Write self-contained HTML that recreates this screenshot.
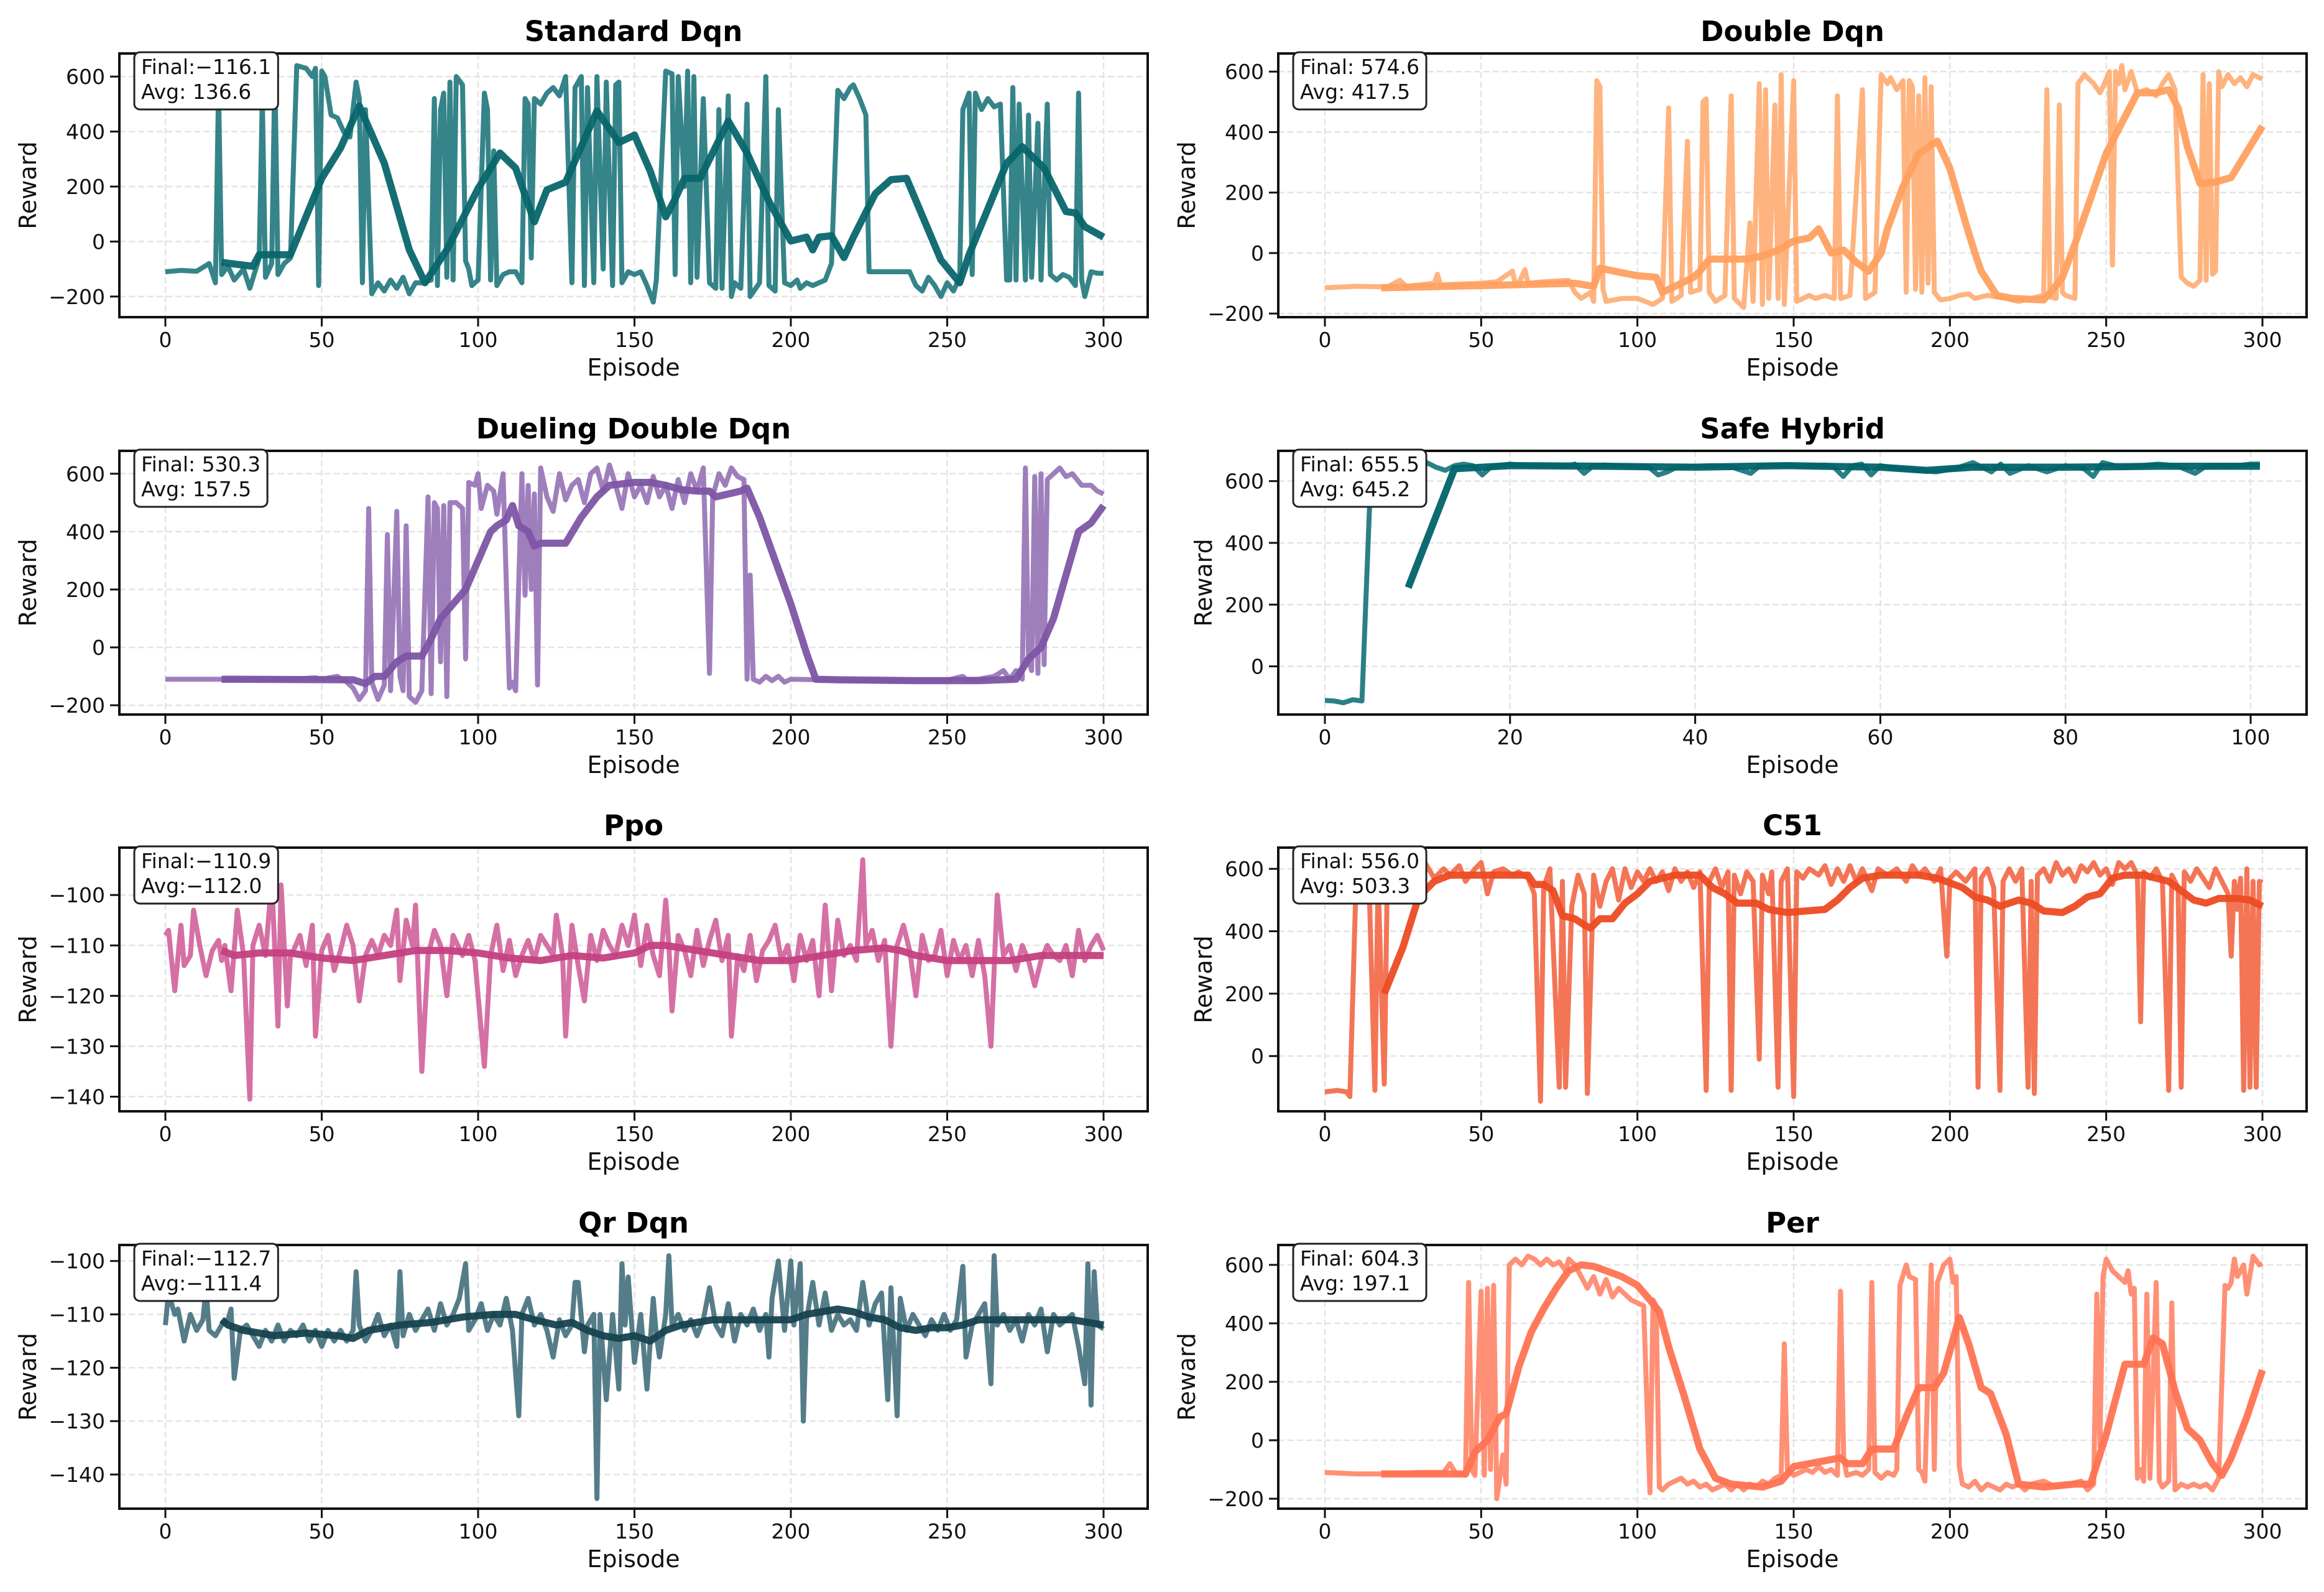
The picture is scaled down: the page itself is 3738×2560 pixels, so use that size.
<!DOCTYPE html>
<html><head><meta charset="utf-8"><style>
html,body{margin:0;padding:0;background:#fff;}
svg{display:block;font-family:"DejaVu Sans","Liberation Sans",sans-serif;}
</style></head><body>
<svg id="fig" xmlns="http://www.w3.org/2000/svg" width="3738" height="2560" viewBox="0 0 3738 2560">
<rect x="0" y="0" width="3738" height="2560" fill="#fff"/>
</svg>
<script>
// ---------------- DATA ----------------
const stdRawX=[0,5,10,14,16,17,18,20,22,25,27,30,31,32,34,35,36,38,40,42,45,47,48,49,50,51,53,55,57,59,61,62,63,64,66,68,70,72,74,76,78,80,82,85,86,87,88,89,90,91,92,93,95,96,97,98,100,102,103,104,105,106,108,110,112,114,115,116,117,118,120,122,124,126,128,130,131,133,134,135,137,138,140,141,143,144,145,146,148,150,152,154,156,157,160,162,163,164,166,167,168,169,170,172,174,176,177,178,180,181,182,184,186,187,190,192,193,195,196,198,200,202,203,205,207,209,211,213,215,217,219,220,222,224,225,228,232,236,238,240,242,244,246,248,250,252,254,255,257,258,259,261,263,265,267,269,270,271,272,273,275,276,277,279,280,282,283,285,287,289,291,292,293,294,296,298,300];
const stdRawY=[-110,-105,-108,-80,-150,560,-120,-90,-140,-100,-170,-60,520,-130,-80,620,-120,-80,-60,640,630,600,630,-160,620,600,460,450,400,380,580,520,-150,480,-190,-150,-180,-140,-170,-130,-190,-150,-150,-140,520,-160,480,540,-130,580,-140,600,570,-70,-100,-160,-140,540,480,-140,330,-160,-120,-110,-110,-150,520,500,-60,520,500,540,560,530,600,-150,560,600,-160,560,-150,600,-100,580,-160,570,580,-150,-110,-120,-110,-160,-220,-140,620,610,-120,600,200,620,-150,600,-130,520,-150,-170,480,-170,530,-200,-150,-170,500,-200,-150,600,-160,-180,480,-150,-160,-140,-170,-150,-160,-150,-140,-80,550,520,560,570,520,460,-110,-110,-110,-110,-110,-160,-180,-130,-160,-200,-150,-180,-130,480,540,-120,540,480,520,490,500,-140,-140,560,-140,500,-140,460,-130,430,-140,500,-120,-140,-120,-130,-160,540,-140,-200,-110,-115,-116];
const stdMaX=[18,28,30,40,50,56,62,70,78,83,90,100,107,112,118,122,128,138,145,150,155,160,163,166,171,180,186,193,200,205,207,209,213,217,220,227,232,237,248,254,257,269,274,281,288,291,294,300];
const stdMaY=[-76,-90,-48,-48,230,340,493,285,-30,-150,-30,193,322,267,72,188,216,475,360,387,257,90,155,230,230,438,322,146,2,16,-30,16,21,-58,16,174,225,230,-67,-150,-48,285,345,267,109,104,54,16];

const dblRawX=[0,10,20,24,26,35,36,37,50,55,60,61,62,64,65,70,78,80,82,85,86,87,88,89,90,95,100,105,108,110,111,114,116,117,120,121,122,123,125,128,130,131,134,136,137,139,140,141,142,144,145,146,147,150,151,155,157,160,163,164,165,168,172,173,176,178,180,181,183,185,186,187,188,189,190,191,192,193,194,195,197,200,203,206,208,212,215,218,222,226,230,231,232,234,235,236,237,240,241,243,246,248,249,251,252,253,254,255,256,258,260,263,266,268,270,272,274,276,278,280,281,282,283,284,285,286,287,289,291,293,295,297,300];
const dblRawY=[-115,-110,-112,-90,-110,-100,-70,-105,-100,-95,-60,-105,-100,-55,-100,-95,-90,-130,-150,-130,-160,570,550,-120,-160,-150,-150,-170,-150,480,-160,-140,370,-130,-120,500,510,-130,-160,-140,520,-150,-180,100,-160,560,-170,540,-150,490,-150,590,-170,570,-160,-140,-150,-140,-150,520,-150,-140,540,-150,-130,590,560,580,540,570,-130,570,550,-120,520,-130,580,-100,550,-130,-155,-150,-140,-135,-150,-140,-145,-150,-160,-150,-140,540,-145,-150,490,-130,-140,-150,560,590,560,530,550,600,-40,600,560,620,540,600,530,540,520,560,590,540,-80,-100,-110,-90,590,-90,560,-70,-60,600,550,590,560,580,550,590,575];
const dblMaX=[18,40,60,80,86,88,95,100,106,108,112,118,120,123,130,135,140,145,150,155,158,162,166,170,174,178,180,185,190,196,200,205,208,210,215,220,230,233,236,240,245,250,255,260,266,270,273,276,280,285,290,300];
const dblMaY=[-115,-110,-105,-100,-110,-50,-65,-75,-80,-130,-110,-80,-60,-20,-20,-20,-10,10,40,50,80,0,10,-30,-60,0,80,220,330,370,280,100,0,-60,-140,-150,-155,-120,-80,30,180,330,430,530,530,540,480,350,230,235,250,420];

const duelRawX=[0,10,20,40,48,50,55,58,60,62,64,65,66,68,70,71,72,74,75,76,77,78,80,82,84,85,86,87,88,89,90,91,93,95,96,97,99,100,101,103,105,106,108,110,111,112,114,115,116,117,118,119,120,122,124,126,128,130,132,134,136,138,140,142,144,146,148,150,152,154,156,158,160,162,164,166,168,170,172,174,175,177,179,181,183,185,186,187,188,190,192,194,196,198,200,210,230,250,255,256,260,265,268,270,272,274,275,276,277,278,279,280,281,282,284,286,288,290,293,296,298,300];
const duelRawY=[-110,-110,-110,-110,-105,-110,-100,-120,-140,-180,-150,480,-120,-180,-130,390,-150,470,-100,-150,420,-170,-190,-150,520,-160,500,480,-50,490,-170,500,500,480,-40,570,560,600,480,560,540,460,600,-140,-120,-150,600,180,560,200,530,-130,620,520,470,600,510,560,580,500,600,620,540,630,560,480,600,520,560,500,590,520,560,480,580,500,600,540,620,-90,520,600,560,620,590,580,-110,250,-110,-120,-100,-115,-100,-120,-110,-112,-115,-113,-100,-110,-110,-100,-80,-110,-80,-110,620,-40,-80,590,-90,600,-60,580,600,620,590,600,560,560,540,530];
const duelMaX=[18,60,64,67,70,74,77,82,85,88,92,96,100,104,106,109,111,113,116,118,120,128,133,138,142,150,155,160,165,170,174,176,184,186,190,195,200,205,208,215,240,260,272,276,280,284,288,292,296,300];
const duelMaY=[-110,-112,-125,-100,-100,-50,-30,-30,30,100,150,200,300,400,420,440,490,420,400,350,360,360,450,520,560,570,570,560,545,540,540,520,540,550,450,300,150,-20,-110,-112,-115,-115,-110,-40,0,100,250,400,430,490];

const safeRawX=[0,1,2,3,4,5,6,7,8,9,10,11,12,13,14,15,16,17,18,20,22,24,26,27,28,29,30,32,34,35,36,37,38,40,42,44,46,47,48,50,52,54,55,56,57,58,59,60,62,64,66,68,70,72,73,74,76,78,80,82,83,84,86,88,90,92,94,95,96,98,100,101];
const safeRawY=[-110,-112,-118,-108,-112,650,655,660,660,665,665,660,645,635,650,655,650,620,648,655,650,652,648,655,625,650,652,650,648,645,620,630,645,648,650,645,625,650,652,650,648,652,645,615,650,655,620,650,640,635,630,640,660,630,655,625,650,630,650,640,615,660,645,650,655,650,625,645,650,648,655,655];
const safeMaX=[9,14,20,30,40,50,60,65,70,80,90,101];
const safeMaY=[255,640,650,648,645,650,645,635,645,645,648,648];

const ppoRawX=[0,1,3,5,6,8,9,11,13,15,17,18,19,21,23,25,27,28,30,32,34,35,36,37,39,40,41,43,45,47,48,50,52,54,56,58,60,62,64,66,68,70,72,74,75,77,79,80,82,84,86,88,90,92,95,97,99,102,104,106,108,110,112,114,116,118,120,122,124,125,127,128,130,132,134,136,138,140,142,144,146,148,150,152,154,156,158,160,161,162,164,166,168,170,172,174,176,178,180,181,183,185,187,189,191,193,195,197,199,201,203,205,207,209,211,213,215,217,219,221,223,224,226,228,230,232,234,236,238,240,242,244,246,248,250,252,254,256,258,260,262,264,266,268,270,272,274,276,278,280,282,284,286,288,290,292,294,296,298,300];
const ppoRawY=[-108,-107,-119,-106,-114,-112,-103,-110,-116,-111,-109,-113,-110,-119,-103,-112,-140.5,-110,-106,-112,-97,-111,-126,-98,-122,-112,-111,-108,-114,-106,-128,-111,-108,-115,-111,-106,-110,-121,-112,-109,-112,-108,-110,-103,-117,-105,-110,-102,-135,-112,-107,-110,-120,-108,-112,-108,-113,-134,-112,-106,-115,-109,-116,-112,-109,-113,-108,-110,-112,-104,-112,-128,-106,-114,-121,-108,-113,-107,-110,-112,-106,-110,-104,-114,-106,-112,-116,-101,-110,-123,-108,-111,-116,-107,-114,-109,-105,-113,-108,-128,-112,-115,-108,-117,-111,-109,-106,-113,-110,-117,-108,-113,-109,-120,-102,-119,-105,-112,-110,-113,-93,-110,-107,-113,-109,-130,-110,-106,-111,-120,-108,-113,-112,-107,-116,-109,-113,-110,-116,-109,-116,-130,-100,-112,-110,-115,-110,-113,-118,-113,-110,-112,-113,-110,-116,-107,-113,-110,-108,-111];
const ppoMaX=[18,22,30,40,50,60,70,80,90,100,110,120,130,140,150,155,160,170,180,190,200,210,220,230,235,240,250,260,270,280,290,300];
const ppoMaY=[-111,-112,-111.5,-111.5,-112.5,-113,-112,-111,-111,-111.5,-112.5,-113,-112,-112.5,-111.5,-110,-110,-111,-112,-113,-113,-112,-111,-110.5,-111,-112,-113,-113,-113,-112,-112,-112];

const c51RawX=[0,4,7,8,10,12,14,16,17,19,20,24,26,28,30,32,35,38,40,43,45,48,50,52,54,57,60,62,65,67,69,70,72,75,76,77,79,81,83,84,86,88,90,92,94,96,98,100,102,104,106,108,110,112,114,116,118,120,122,123,125,127,129,130,131,133,135,137,139,140,142,143,145,146,148,150,151,153,155,158,160,162,164,166,168,170,172,175,177,180,183,186,188,190,192,195,197,199,200,202,205,208,209,210,212,214,216,217,219,221,223,225,226,227,228,230,232,234,236,238,240,242,244,246,248,250,252,254,256,258,260,261,262,264,266,268,270,271,273,274,275,277,279,281,283,285,287,289,290,291,292,293,294,295,296,297,298,299,300];
const c51RawY=[-115,-110,-115,-130,570,550,600,-110,570,-90,590,580,600,560,590,620,570,600,580,610,560,600,620,520,590,600,580,590,570,520,-145,540,600,-100,560,-100,480,580,520,-120,580,480,560,600,500,600,540,590,560,600,560,590,530,600,560,590,540,590,-110,560,600,540,590,-110,580,520,590,560,-10,580,520,590,-100,560,600,-130,590,570,600,580,610,550,600,560,610,560,600,530,600,580,600,560,610,580,600,560,600,320,570,590,560,600,-100,570,600,540,-110,560,600,560,600,-100,560,-120,580,600,560,620,580,600,560,610,590,620,580,600,550,620,600,620,580,110,590,570,600,560,-110,580,540,-100,590,560,600,570,540,600,560,520,320,560,470,570,-110,600,-100,560,-100,560,556];
const c51MaX=[19,25,30,35,40,50,60,65,67,70,73,76,80,83,85,88,92,96,100,104,108,112,120,124,128,132,138,142,148,154,160,164,168,172,178,190,196,200,204,208,212,216,222,226,230,236,240,244,248,252,256,262,266,270,274,278,282,286,292,296,300];
const c51MaY=[200,350,510,560,580,580,580,580,550,550,530,450,440,420,410,440,440,490,520,560,570,580,580,540,520,490,490,470,460,465,470,500,540,570,580,580,570,555,540,510,500,480,500,490,465,460,480,510,520,570,580,580,570,560,530,500,490,505,505,500,480];

const qrRawX=[0,1,3,4,6,8,10,12,13,14,16,18,20,21,22,24,26,28,30,32,34,36,38,40,42,44,46,48,50,52,54,56,58,60,61,62,64,66,68,70,72,74,75,76,78,80,82,84,86,88,90,92,94,96,97,99,101,103,105,107,109,111,113,114,116,118,120,122,124,126,128,130,131,132,134,135,137,138,139,141,143,145,146,147,148,150,152,154,156,157,158,160,161,162,164,166,168,170,172,174,176,178,180,182,184,186,188,190,192,193,194,196,198,200,201,203,204,205,207,209,211,213,215,217,219,221,223,225,227,229,231,232,234,235,237,239,241,243,245,247,249,251,253,255,256,258,260,262,264,265,266,268,270,272,274,276,278,280,282,284,286,288,290,292,294,295,296,297,298,300];
const qrRawY=[-112,-106,-110,-109,-115,-110,-113,-111,-105,-113,-114,-112,-111,-109,-122,-113,-112,-114,-116,-113,-115,-112,-115,-113,-114,-112,-115,-113,-116,-113,-115,-113,-115,-113,-102,-112,-115,-113,-110,-114,-112,-116,-102,-114,-110,-113,-111,-109,-113,-108,-112,-110,-107,-100.5,-113,-111,-108,-113,-110,-112,-107,-113,-129,-110,-107,-112,-110,-113,-118,-111,-114,-112,-104,-104,-117,-112,-110,-144.5,-110,-126,-110,-124,-100.5,-112,-103,-119,-110,-124,-107,-114,-118,-110,-99,-112,-110,-113,-111,-114,-111,-105,-112,-114,-108,-115,-110,-112,-109,-113,-110,-118,-107,-100,-113,-100,-112,-100.5,-130,-111,-104,-112,-106,-113,-110,-112,-111,-113,-104,-112,-108,-106,-126,-105,-129,-107,-113,-110,-112,-114,-111,-113,-110,-113,-111,-101,-118,-112,-110,-108,-123,-99,-112,-110,-113,-111,-115,-110,-112,-109,-117,-110,-112,-111,-110,-116,-123,-100.5,-127,-102,-112,-112.7];
const qrMaX=[18,20,25,35,45,55,60,65,75,85,95,105,112,118,125,130,135,140,145,150,155,160,165,170,175,185,195,200,205,210,215,220,225,230,235,240,245,250,255,260,270,280,290,300];
const qrMaY=[-111,-112,-113,-114,-113.5,-114,-114.5,-113,-112,-111.5,-110.5,-110,-110,-111,-112,-111.5,-113,-114,-114.5,-114,-115,-113,-112,-111.5,-111,-111,-111,-111,-110,-109.5,-109,-109.5,-110.5,-111,-112.5,-113,-112.5,-112.5,-112,-111,-111,-111,-111,-112];

const perRawX=[0,10,20,30,38,40,42,45,46,47,48,50,51,52,53,54,55,57,58,59,61,63,65,67,69,71,73,75,77,78,80,82,84,86,88,90,92,94,96,98,100,102,104,105,106,107,108,110,112,114,116,118,120,122,124,126,128,130,132,134,136,138,140,142,144,146,147,148,150,152,154,156,158,160,162,164,165,166,167,170,172,174,175,176,178,180,182,183,184,186,187,189,190,191,192,194,195,196,198,200,201,202,203,204,206,208,210,212,214,216,218,220,222,224,226,230,234,238,242,244,246,247,248,249,250,252,254,256,257,258,259,260,261,262,263,264,266,267,268,270,271,272,274,276,278,280,282,284,286,288,289,290,291,292,294,295,297,299,300];
const perRawY=[-110,-115,-115,-110,-110,-80,-115,-120,540,-100,-120,510,-120,520,-100,530,-200,-50,-150,600,620,600,630,620,600,620,600,610,580,620,600,560,520,560,500,550,490,520,500,480,470,460,-180,480,460,-160,-170,-150,-140,-130,-150,-140,-160,-150,-170,-160,-150,-170,-150,-170,-150,-160,-140,-150,-130,-120,330,-100,-120,-110,-100,-110,-90,-110,-100,-120,510,-60,-120,-110,-120,-100,540,-110,-130,-110,-120,-100,530,600,560,550,-100,-110,-140,600,-100,540,600,620,540,560,-90,-150,-160,-140,-170,-150,-160,-170,-150,-160,-150,-170,-150,-140,-160,-150,-140,-170,-150,500,-20,560,620,580,560,540,580,500,520,-130,-100,-140,500,-130,540,-140,-160,-140,470,-170,-150,-160,-150,-160,-150,-170,-130,530,520,540,620,560,600,500,630,600,604];
const perMaX=[18,45,48,52,56,58,62,66,70,74,78,82,86,90,95,100,104,107,110,115,120,125,130,140,146,150,155,160,165,167,172,175,182,186,190,195,198,203,206,210,213,218,222,230,240,245,250,256,262,265,268,272,276,280,284,287,290,295,300];
const perMaY=[-115,-115,-40,0,80,90,250,370,450,520,580,600,595,580,560,530,480,440,320,150,-30,-130,-150,-160,-140,-90,-80,-70,-60,-80,-80,-30,-30,80,180,180,230,420,330,180,160,20,-150,-160,-150,-150,20,260,260,350,330,170,40,0,-80,-120,-60,80,240];

const titles=["Standard Dqn","Double Dqn","Dueling Double Dqn","Safe Hybrid","Ppo","C51","Qr Dqn","Per"];
const finalLabels=["Final:\u2212116.1","Final: 574.6","Final: 530.3","Final: 655.5","Final:\u2212110.9","Final: 556.0","Final:\u2212112.7","Final: 604.3"];
const avgLabels=["Avg: 136.6","Avg: 417.5","Avg: 157.5","Avg: 645.2","Avg:\u2212112.0","Avg: 503.3","Avg:\u2212111.4","Avg: 197.1"];
const yDomains=[[-275,684],[-212,660],[-232,679],[-156,698],[-142.9,-90.6],[-177,668],[-146.4,-97],[-234,668]];
const xDomains=[[0,300],[0,300],[0,300],[0,101.3],[0,300],[0,300],[0,300],[0,300]];
const yTicks=[[-200,0,200,400,600],[-200,0,200,400,600],[-200,0,200,400,600],[0,200,400,600],[-140,-130,-120,-110,-100],[0,200,400,600],[-140,-130,-120,-110,-100],[-200,0,200,400,600]];
const xTicks=[[0,50,100,150,200,250,300],[0,50,100,150,200,250,300],[0,50,100,150,200,250,300],[0,20,40,60,80,100],[0,50,100,150,200,250,300],[0,50,100,150,200,250,300],[0,50,100,150,200,250,300],[0,50,100,150,200,250,300]];
const rawSeries=[[stdRawX,stdRawY],[dblRawX,dblRawY],[duelRawX,duelRawY],[safeRawX,safeRawY],[ppoRawX,ppoRawY],[c51RawX,c51RawY],[qrRawX,qrRawY],[perRawX,perRawY]];
const maSeries=[[stdMaX,stdMaY],[dblMaX,dblMaY],[duelMaX,duelMaY],[safeMaX,safeMaY],[ppoMaX,ppoMaY],[c51MaX,c51MaY],[qrMaX,qrMaY],[perMaX,perMaY]];
const rawColors=["#1f777c","#ffab70","#9371b5","#147279","#d0609a","#f26644","#436f7c","#ff8466"];
const maColors=["#08666b","#ffa060","#7d55a4","#00636a","#c4407f","#ec4b22","#17434f","#ff7352"];
const slugs=["standard-dqn","double-dqn","dueling-double-dqn","safe-hybrid","ppo","c51","qr-dqn","per"];

// ---------------- LAYOUT ----------------
const NS="http://www.w3.org/2000/svg";
const svg=document.getElementById('fig');
const colLeft=[192,2056], colRight=[1846,3710];
const rowTop=[86,725,1363,2002], axH=424;
const xPad=[[266,1775],[2131,3639]];
function mk(tag,attrs,parent){const e=document.createElementNS(NS,tag);for(const k in attrs)e.setAttribute(k,attrs[k]);(parent||svg).appendChild(e);return e;}
function fmt(v){const s=String(v);return v<0?'\u2212'+s.slice(1):s;}

for(let i=0;i<8;i++){
  const col=i%2,row=Math.floor(i/2);
  const L=colLeft[col],R=colRight[col],T=rowTop[row],B=T+axH;
  const xd=xDomains[i], yd=yDomains[i];
  const x0=xPad[col][0], x1=xPad[col][1];
  const xs=(xd[1]===300)?(v=>x0+(v-0)*(x1-x0)/300):(v=>x0+v*(3620-x0)/100);
  const ys=v=>B-(v-yd[0])*(B-T)/(yd[1]-yd[0]);
  const g=mk('g',{});
  
  
  const clipId='clip'+i;
  const cp=mk('clipPath',{id:clipId},g);mk('rect',{x:L,y:T,width:R-L,height:B-T},cp);
  const grid=mk('g',{},g);
  
  
  xTicks[i].forEach(t=>{const l=mk('line',{x1:xs(t),x2:xs(t),y1:T,y2:B,stroke:'#e4e4e4','stroke-width':2.5,'stroke-dasharray':'10 5'},grid);
    });
  yTicks[i].forEach(t=>{const l=mk('line',{x1:L,x2:R,y1:ys(t),y2:ys(t),stroke:'#e4e4e4','stroke-width':2.5,'stroke-dasharray':'10 5'},grid);
    });
  const raw=rawSeries[i], ma=maSeries[i];
  const rp=mk('polyline',{points:raw[0].map((x,k)=>xs(x).toFixed(1)+','+ys(raw[1][k]).toFixed(1)).join(' '),fill:'none',stroke:rawColors[i],'stroke-width':8,'stroke-opacity':0.9,'stroke-linejoin':'round','clip-path':'url(#'+clipId+')'},g);
  
  
  const mp=mk('polyline',{points:ma[0].map((x,k)=>xs(x).toFixed(1)+','+ys(ma[1][k]).toFixed(1)).join(' '),fill:'none',stroke:maColors[i],'stroke-width':11.5,'stroke-opacity':0.95,'stroke-linejoin':'round','clip-path':'url(#'+clipId+')'},g);
  
  
  const fr=mk('rect',{x:L,y:T,width:R-L,height:B-T,fill:'none',stroke:'#111','stroke-width':4},g);
  
  
  xTicks[i].forEach(t=>{const x=xs(t);mk('line',{x1:x,x2:x,y1:B,y2:B+15,stroke:'#111','stroke-width':3},g);
    const tx=mk('text',{x:x,y:B+48,'font-size':33,'text-anchor':'middle',fill:'#111'},g);tx.textContent=fmt(t);
    });
  let wide=false;
  yTicks[i].forEach(t=>{const y=ys(t);if(String(t).length>3)wide=true;mk('line',{x1:L-15,x2:L,y1:y,y2:y,stroke:'#111','stroke-width':3},g);
    const tx=mk('text',{x:L-23,y:y+12,'font-size':33,'text-anchor':'end',fill:'#111'},g);tx.textContent=fmt(t);
    });
  const xl=mk('text',{x:(L+R)/2,y:B+94,'font-size':38,'text-anchor':'middle',fill:'#111'},g);xl.textContent='Episode';
  
  const lx=wide?L-147:L-120, ly=(T+B)/2;
  const yl=mk('text',{x:lx,y:ly,'font-size':38,'text-anchor':'middle','dominant-baseline':'central',fill:'#111',transform:'rotate(-90 '+lx+' '+ly+')'},g);yl.textContent='Reward';
  
  const tt=mk('text',{x:(L+R)/2,y:T-20,'font-size':45,'font-weight':'bold','text-anchor':'middle',fill:'#000'},g);tt.textContent=titles[i];
  
  const ag=mk('g',{},g);
  
  
  const box=mk('rect',{x:L+24,y:T-2,width:210,height:92,rx:9,fill:'#fff',stroke:'#222','stroke-width':3},ag);
  const t1=mk('text',{x:L+35,y:T+33,'font-size':33,fill:'#111'},ag);t1.textContent=finalLabels[i];
  const t2=mk('text',{x:L+35,y:T+73,'font-size':33,fill:'#111'},ag);t2.textContent=avgLabels[i];
  const w=Math.max(t1.getComputedTextLength(),t2.getComputedTextLength());
  box.setAttribute('width',(w+22).toFixed(1));
}
</script>
</body></html>
